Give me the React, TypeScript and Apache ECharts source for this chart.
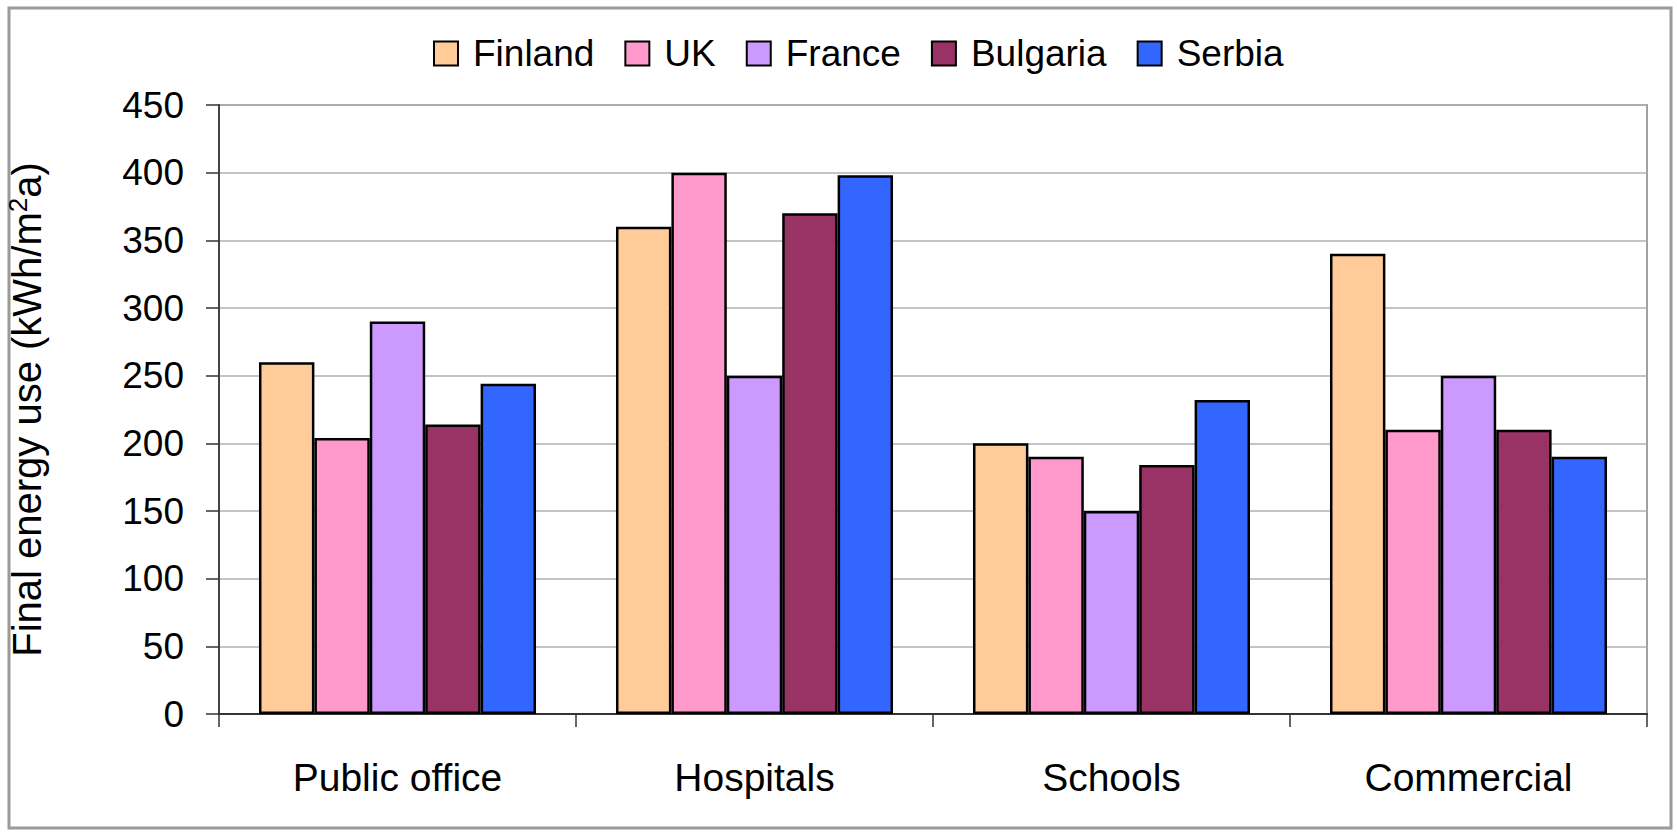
import React, { useEffect, useRef } from "react";
import * as echarts from "echarts";

const categories = ["Public office", "Hospitals", "Schools", "Commercial"];
const seriesNames = ["Finland", "UK", "France", "Bulgaria", "Serbia"];
const finland = [260, 360, 200, 340];
const uk = [204, 400, 190, 210];
const france = [290, 250, 150, 250];
const bulgaria = [214, 370, 184, 210];
const serbia = [244, 398, 232, 190];
const colors = ["#FFCC99", "#FF99CC", "#CC99FF", "#993366", "#3366FF"];
const yTicks = { min: 0, max: 450, interval: 50 };

const FONT = "'Liberation Sans', Arial, sans-serif";

export default function App() {
  const ref = useRef<HTMLDivElement>(null);
  useEffect(() => {
    document.body.style.margin = "0";
    const chart = echarts.init(ref.current!, null, { renderer: "svg" });
    const data = [finland, uk, france, bulgaria, serbia];
    chart.setOption({
      animation: false,
      backgroundColor: "#ffffff",
      textStyle: { fontFamily: FONT, color: "#000" },
      graphic: [
        {
          type: "rect",
          shape: { x: 9, y: 8, width: 1662, height: 820 },
          style: { fill: "none", stroke: "#9a9a9a", lineWidth: 3 },
          silent: true,
        },
      ],
      legend: {
        top: 30,
        left: 428,
        itemWidth: 24,
        itemHeight: 24,
        itemGap: 30,
        icon: "rect",
        textStyle: { fontSize: 37, fontFamily: FONT, color: "#000", padding: [0, 0, 0, 10] },
        data: seriesNames,
      },
      grid: {
        left: 219,
        right: 30,
        top: 105,
        bottom: 119,
        show: true,
        borderColor: "#a0a0a0",
        borderWidth: 2,
        containLabel: false,
        outerBoundsMode: "none",
      },
      xAxis: {
        type: "category",
        data: categories,
        axisLine: { show: true, lineStyle: { color: "#333", width: 2 } },
        axisTick: { show: true, length: 13, alignWithLabel: false, lineStyle: { color: "#333", width: 1.5 } },
        axisLabel: { fontSize: 39, color: "#000", margin: 44, fontFamily: FONT },
        splitLine: { show: false },
      },
      yAxis: {
        type: "value",
        min: yTicks.min,
        max: yTicks.max,
        interval: yTicks.interval,
        name: "Final energy use (kWh/m{sup|2}a)",
        nameLocation: "middle",
        nameGap: 170,
        nameRotate: 90,
        nameTextStyle: {
          fontSize: 40,
          color: "#000",
          fontFamily: FONT,
          rich: {
            sup: { fontSize: 26, color: "#000", fontFamily: FONT, verticalAlign: "top", padding: [0, 0, 18, 0] },
          },
        },
        axisLine: { show: true, lineStyle: { color: "#444", width: 2 } },
        axisTick: { show: true, length: 13, lineStyle: { color: "#333", width: 1.5 } },
        axisLabel: { fontSize: 37, color: "#000", margin: 35, fontFamily: FONT },
        splitLine: { show: true, lineStyle: { color: "#b0b0b0", width: 1.5 } },
      },
      series: seriesNames.map((name, i) => ({
        name,
        type: "bar",
        data: data[i],
        barGap: "0%",
        barCategoryGap: "22.4%",
        itemStyle: { color: colors[i], borderColor: "#000", borderWidth: 2.5 },
      })),
    });
    return () => chart.dispose();
  }, []);
  return <div ref={ref} style={{ width: 1677, height: 833 }} />;
}
